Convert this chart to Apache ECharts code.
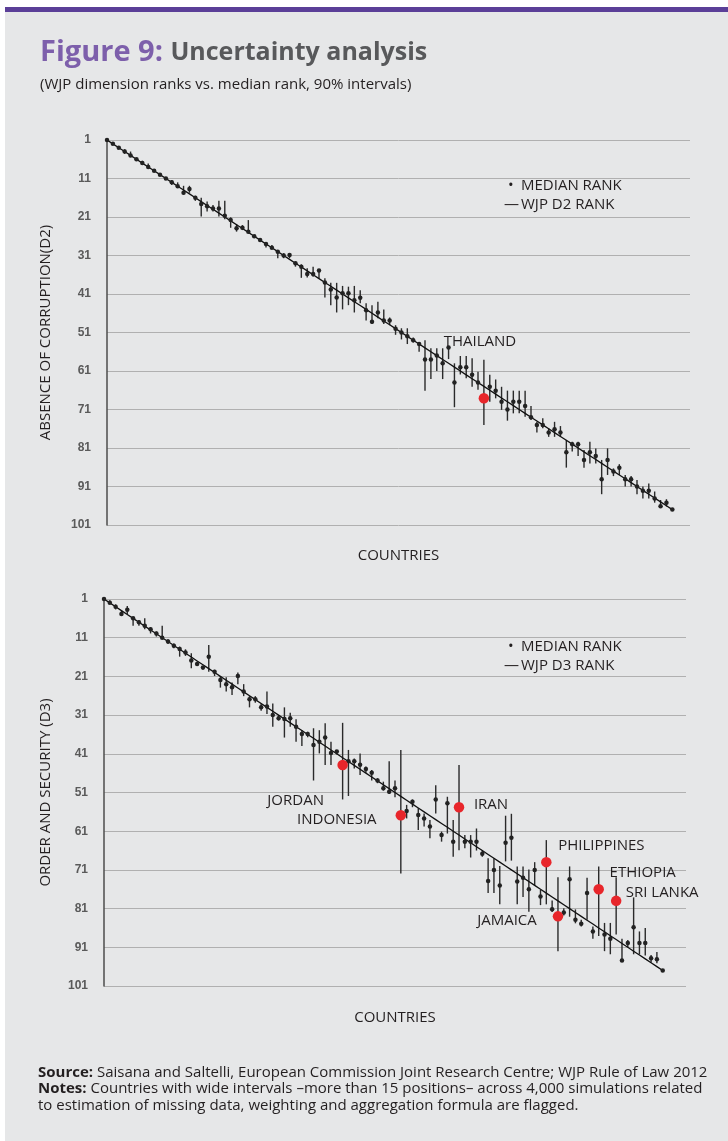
<!DOCTYPE html>
<html>
<head>
<meta charset="utf-8">
<title>Figure 9: Uncertainty analysis</title>
<script src="https://cdn.jsdelivr.net/npm/echarts@6/dist/echarts.min.js"></script>
<style>
html, body { margin: 0; padding: 0; background: #fff; }
#main { width: 728px; height: 1141px; }
</style>
</head>
<body>
<div id="main"></div>
<script>
// rank axis ticks (ranks run top to bottom)
var rankTicks = [1, 11, 21, 31, 41, 51, 61, 71, 81, 91, 101];

// D2 absence of corruption: median rank and 90% interval per country (in WJP rank order)
var d2Median = [1, 2, 3, 4, 5, 6, 7, 8, 9, 10,
  11, 12, 13, 14.7, 13.7, 16, 17.6, 18.2, 18.8, 18.8,
  20.7, 21.8, 23.9, 23.8, 24.8, 26, 27, 28, 29, 30,
  31, 30.9, 33, 33.9, 35.8, 35.8, 34.9, 38, 39.8, 41.9,
  40.8, 40.8, 42.6, 42, 45.2, 48.2, 45.8, 47.9, 47.9, 50,
  51, 52, 53, 54, 58, 58, 57, 59, 54.9, 64,
  60, 60, 62, 64, 68.1, 65.1, 66.1, 69, 71, 69,
  69, 70.1, 73, 75, 75, 77, 76.1, 77, 82.1, 80,
  80, 84.1, 82.1, 83.1, 89.1, 84.1, 87.1, 86.1, 89.1, 89.1,
  91, 92.1, 92.1, 94.1, 96.1, 95.2, 97];
var d2Low = [1, 2, 3, 3.4, 4, 6, 6.4, 7.1, 9, 10,
  11, 11.4, 12, 12.9, 12.9, 15.5, 16, 17, 17.9, 16.8,
  16.8, 21.1, 22.8, 23.1, 21.8, 26, 27, 27.8, 28.3, 29.6,
  30.4, 30.4, 32.6, 33.3, 34.3, 33.9, 34.6, 36.9, 38.1, 38.1,
  38.9, 39.1, 38.9, 40, 43.4, 43.9, 43, 45, 47.1, 49.1,
  49.9, 49.9, 52.3, 53.6, 53, 55.1, 55.1, 55.1, 54.5, 59,
  57.1, 57.1, 57.7, 61.2, 58.1, 62, 63.2, 65.1, 66.1, 66.1,
  66.1, 66.1, 70.1, 74.2, 73.3, 75.9, 74.2, 75.3, 78.9, 79.4,
  79.4, 81.5, 79.4, 81.1, 84.1, 81.1, 86.3, 85.2, 88, 88.3,
  89.3, 91, 90.2, 92.3, 94.5, 94.3, 97];
var d2High = [1, 2, 3, 4.6, 5.2, 6, 7.5, 8.1, 9, 10,
  11, 12.7, 13.3, 15.1, 14.7, 16.8, 20.9, 19.6, 19.6, 20.9,
  21.6, 23.8, 24.8, 24.4, 25.2, 26, 27, 28.9, 29.3, 31.7,
  31.7, 31.7, 33.9, 36.8, 36.7, 36.5, 36.9, 41.9, 43.9, 45.8,
  45, 43.9, 45.8, 43.4, 47.9, 48.8, 47.3, 48.8, 49.1, 51.6,
  52.8, 54, 53.6, 56, 66.1, 63.1, 61, 63.1, 57.9, 70.4,
  61.9, 62.9, 65.1, 65.9, 75, 69, 68.1, 71.1, 73.9, 72,
  72, 72.9, 73.7, 77, 75.9, 78.1, 78.1, 78.1, 86.1, 81.9,
  83.1, 86.1, 85, 85, 93, 88, 88.3, 88, 91, 91,
  93, 94.1, 94.1, 95.2, 96.2, 96.2, 97];
var d2Flagged = [65];
var d2FlaggedNames = ['THAILAND'];

// D3 order and security
var d3Median = [1, 2, 3, 4.9, 3.8, 6, 7, 7.9, 8.8, 9.9,
  11, 12, 13.1, 13.9, 14.8, 16.9, 17.8, 18.7, 15.9, 19.8,
  21.9, 23, 23.8, 20.9, 24.9, 26.9, 26.9, 29, 28.8, 31,
  31.8, 32, 31.8, 34, 35.9, 35.9, 38.7, 37.9, 36.8, 40.8,
  40.4, 43.9, 42.9, 42.9, 43.8, 44.9, 45.9, 47.9, 49.9, 50.8,
  49.9, 56.9, 55.8, 53.4, 56.8, 57.7, 59.8, 52.8, 62, 53.8,
  63.7, 54.8, 63.7, 63.7, 63.7, 66.8, 73.9, 71, 75, 64,
  62.7, 74, 73, 76, 71, 77.9, 69, 81.2, 83, 82,
  73.4, 83.9, 84.9, 77, 86.9, 76, 87.7, 88.8, 79, 94.4,
  89.9, 85.8, 89.9, 89.9, 93.8, 94.1, 97];
var d3Low = [1, 1.3, 2.4, 4, 2.8, 5.6, 6.4, 6, 8.3, 9.4,
  7.9, 11.4, 12.5, 13.3, 14, 15, 17.2, 18.3, 12.9, 19.3,
  20.9, 21.2, 22.6, 20, 23, 26.1, 26.1, 28, 24.9, 28,
  31, 29, 30.4, 32.1, 34.9, 35.3, 34.4, 34.9, 33.1, 37.9,
  40, 33, 40, 42.2, 40.9, 44.3, 45.2, 47.3, 48.2, 42.9,
  47.9, 40, 54.2, 52.8, 55.1, 56.4, 58.1, 49.1, 61.1, 52.1,
  58.1, 43.9, 62, 62, 60.3, 65.9, 68, 68, 70, 57,
  56.5, 70.1, 70.1, 70.9, 69, 76.2, 63.3, 78.9, 72.9, 80.9,
  70.1, 81.2, 83.9, 73, 85.6, 70.1, 84.7, 84.7, 72.9, 88.8,
  89.1, 78.1, 86.9, 86, 93, 92.2, 97];
var d3High = [1, 2.3, 3.7, 5.1, 4.9, 7.9, 7.9, 8.8, 9.9, 10.7,
  11.2, 12.6, 13.7, 15.9, 15.7, 18.9, 18.3, 19.3, 19.8, 20.9,
  23.9, 24.9, 25.8, 23, 26.1, 29, 27.8, 29.9, 30.7, 34,
  32.4, 36.8, 34, 37.9, 39, 36.7, 47.9, 40.9, 43.9, 43.9,
  41.2, 52.8, 51.9, 44.8, 46.5, 45.9, 47.9, 48.6, 50.5, 51.4,
  52.2, 71.9, 57.7, 54.8, 60.7, 59.8, 62.8, 56.4, 63.7, 61.6,
  67.6, 65.9, 65.4, 67.8, 66, 67.6, 77, 77, 79.9, 68.8,
  68.6, 79.9, 78, 81.8, 75, 80.1, 79.9, 81.9, 92, 82.8,
  83.1, 84.8, 85.6, 83.9, 88.8, 88.1, 92, 92.8, 87.7, 94.6,
  91, 92.8, 92.8, 93.1, 94.9, 95.1, 97];
var d3Flagged = [42, 52, 62, 77, 79, 86, 89];
var d3FlaggedNames = ['JORDAN', 'INDONESIA', 'IRAN', 'PHILIPPINES', 'JAMAICA', 'ETHIOPIA', 'SRI LANKA'];

// where the country labels sit around their red dot
var labelOffset = {
  'THAILAND': [-4, -57],
  'JORDAN': [-47, 36],
  'INDONESIA': [-64, 4],
  'IRAN': [32, -2],
  'PHILIPPINES': [55, -16],
  'JAMAICA': [-51, 4],
  'ETHIOPIA': [44, -17],
  'SRI LANKA': [46, -8]
};

var textFont = '"Open Sans", "Noto Sans", sans-serif';
var ink = '#231f20';
var capsSize = 15;

// build the series of one panel
function panelSeries(idx, median, low, high, flagged, names) {
  var position = median.map(function (v, i) { return i + 1; });
  var line = position.map(function (p) { return [p, p]; });
  var bars = position.map(function (p, i) { return [p, low[i], high[i]]; });
  var dots = position.map(function (p, i) { return [p, median[i]]; });
  var red = flagged.map(function (p, k) {
    return {
      value: [p, median[p - 1]],
      name: names[k],
      label: { offset: labelOffset[names[k]] }
    };
  });
  return [
    {
      name: 'interval',
      type: 'custom',
      xAxisIndex: idx,
      yAxisIndex: idx,
      encode: { x: 0, y: [1, 2] },
      data: bars,
      silent: true,
      z: 2,
      renderItem: function (params, api) {
        var a = api.coord([api.value(0), api.value(1)]);
        var b = api.coord([api.value(0), api.value(2)]);
        return {
          type: 'line',
          shape: { x1: a[0], y1: a[1], x2: b[0], y2: b[1] },
          style: { stroke: '#2a2a2a', lineWidth: 1.4 }
        };
      }
    },
    {
      name: 'wjp',
      type: 'line',
      xAxisIndex: idx,
      yAxisIndex: idx,
      data: line,
      symbol: 'none',
      silent: true,
      z: 3,
      lineStyle: { color: '#111', width: 1.3 }
    },
    {
      name: 'median',
      type: 'scatter',
      xAxisIndex: idx,
      yAxisIndex: idx,
      data: dots,
      symbolSize: 4.5,
      silent: true,
      z: 4,
      itemStyle: { color: '#222', opacity: 1 }
    },
    {
      name: 'flagged',
      type: 'scatter',
      xAxisIndex: idx,
      yAxisIndex: idx,
      data: red,
      symbolSize: 10.5,
      silent: true,
      z: 5,
      itemStyle: { color: '#e8262b', opacity: 1 },
      label: {
        show: true,
        position: 'inside',
        formatter: '{b}',
        fontFamily: textFont,
        fontSize: capsSize,
        color: ink,
        opacity: 1
      }
    }
  ];
}

function xAxisFor(idx, max, gap) {
  return {
    type: 'value',
    gridIndex: idx,
    min: 1,
    max: max,
    axisLine: { show: false },
    axisTick: { show: false },
    axisLabel: { show: false },
    splitLine: { show: false },
    name: 'COUNTRIES',
    nameLocation: 'middle',
    nameGap: gap,
    nameTextStyle: { fontFamily: textFont, fontSize: capsSize, color: ink }
  };
}

function yAxisFor(idx, title, gap) {
  return {
    type: 'value',
    gridIndex: idx,
    inverse: true,
    min: rankTicks[0],
    max: rankTicks[rankTicks.length - 1],
    interval: rankTicks[1] - rankTicks[0],
    axisLine: { show: true, lineStyle: { color: '#4d4d4d', width: 1.5 } },
    axisTick: { show: false },
    axisLabel: {
      margin: 16,
      fontFamily: '"Liberation Sans", Arial, sans-serif',
      fontWeight: 'bold',
      fontSize: 12,
      color: '#5a5a5a'
    },
    splitLine: { show: true, lineStyle: { color: '#b0b0b0', width: 1 } },
    name: title,
    nameLocation: 'middle',
    nameGap: gap,
    nameRotate: 90,
    nameTextStyle: { fontFamily: textFont, fontSize: capsSize, color: ink }
  };
}

function legendText(x, y, sym, label, symX) {
  return [
    { type: 'text', left: symX, top: y - 8, style: { text: sym, font: capsSize + 'px ' + textFont, fill: ink } },
    { type: 'text', left: x, top: y - 8, style: { text: label, font: capsSize + 'px ' + textFont, fill: ink } }
  ];
}

var chart = echarts.init(document.getElementById('main'));

var option = {
  animation: false,
  backgroundColor: '#ffffff',
  graphic: {
    elements: [
      { type: 'rect', z: -100, shape: { x: 5, y: 12, width: 723, height: 1129 }, style: { fill: '#e6e7e8' } },
      { type: 'rect', z: -100, shape: { x: 5, y: 7, width: 723, height: 5 }, style: { fill: '#5b3f98' } },
      {
        type: 'text', left: 40, top: 38,
        style: {
          text: '{a|Figure 9: }{b|Uncertainty analysis}',
          rich: {
            a: { fontFamily: textFont, fontWeight: 'bold', fontSize: 29, fill: '#7d5fab', color: '#7d5fab' },
            b: { fontFamily: textFont, fontWeight: 'bold', fontSize: 25, fill: '#58595b', color: '#58595b' }
          }
        }
      },
      { type: 'text', left: 40, top: 77, style: { text: '(WJP dimension ranks vs. median rank, 90% intervals)', font: '15px ' + textFont, fill: ink } },
      {
        type: 'text', left: 38, top: 1064,
        style: {
          text: '{h|Source:} Saisana and Saltelli, European Commission Joint Research Centre; WJP Rule of Law 2012\n' +
                '{h|Notes:} Countries with wide intervals \u2013more than 15 positions\u2013 across 4,000 simulations related\n' +
                'to estimation of missing data, weighting and aggregation formula are flagged.',
          font: '15px ' + textFont,
          fill: ink,
          lineHeight: 16.5,
          rich: { h: { fontFamily: textFont, fontWeight: 'bold', fontSize: 15, fill: ink, color: ink, lineHeight: 16.5 } }
        }
      }
    ].concat(
      legendText(521, 186, '\u2022', 'MEDIAN RANK', 508),
      legendText(521, 205, '\u2014', 'WJP D2 RANK', 504),
      legendText(521, 647, '\u2022', 'MEDIAN RANK', 508),
      legendText(521, 666, '\u2014', 'WJP D3 RANK', 504)
    )
  },
  grid: [
    { left: 107, top: 140, width: 583, height: 385 },
    { left: 104, top: 599, width: 582, height: 387 }
  ],
  xAxis: [xAxisFor(0, 100, 23), xAxisFor(1, 101, 24)],
  yAxis: [yAxisFor(0, 'ABSENCE OF CORRUPTION(D2)', 54), yAxisFor(1, 'ORDER AND SECURITY (D3)', 51)],
  series: panelSeries(0, d2Median, d2Low, d2High, d2Flagged, d2FlaggedNames)
    .concat(panelSeries(1, d3Median, d3Low, d3High, d3Flagged, d3FlaggedNames))
};

chart.setOption(option);
</script>
</body>
</html>
